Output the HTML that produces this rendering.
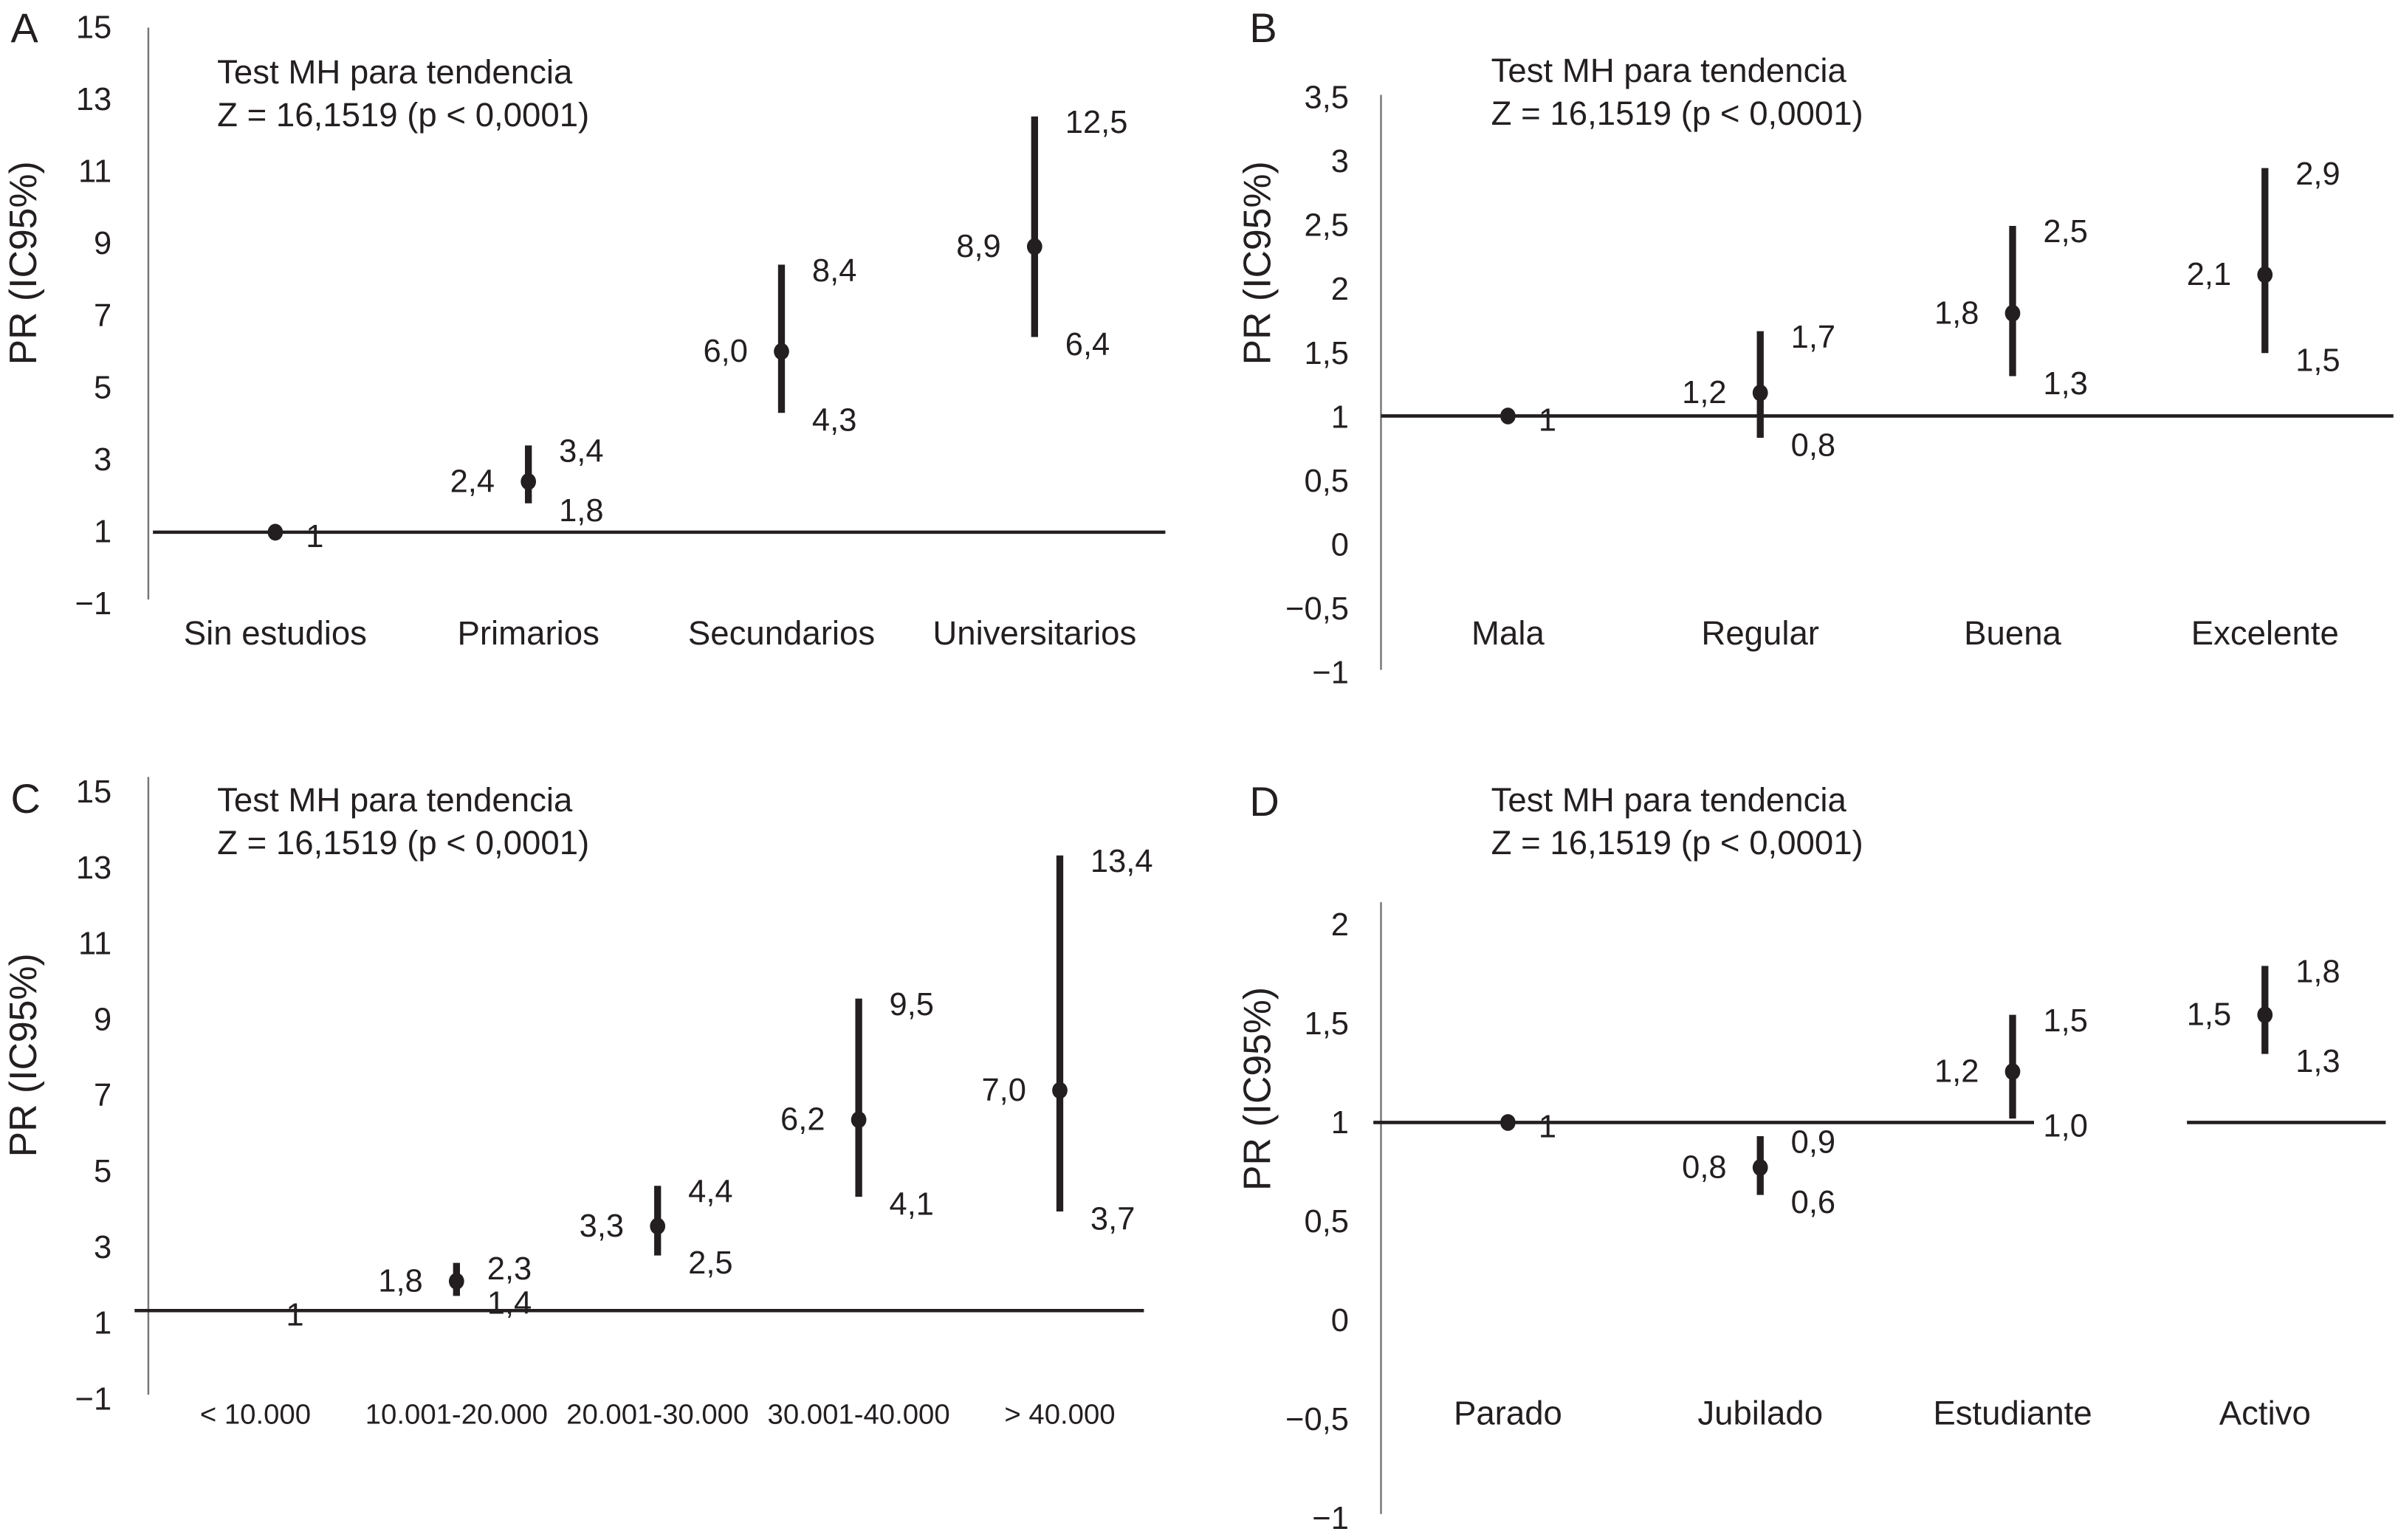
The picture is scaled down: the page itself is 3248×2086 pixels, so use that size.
<!DOCTYPE html>
<html><head><meta charset="utf-8"><style>
html,body{margin:0;padding:0;background:#fff;}
svg{display:block;font-family:"Liberation Sans",Arial,sans-serif;fill:#231f20;}
</style></head><body>
<svg id="fig" width="3248" height="2086" viewBox="0 0 1568 1007" xmlns="http://www.w3.org/2000/svg"></svg>
<script>
// Panel A data
const catsA = ["Sin estudios","Primarios","Secundarios","Universitarios"];
const prA = [1,2.4,6.0,8.9];
const loA = [null,1.8,4.3,6.4];
const hiA = [null,3.4,8.4,12.5];
const prLabA = ["1","2,4","6,0","8,9"];
const loLabA = ["","1,8","4,3","6,4"];
const hiLabA = ["","3,4","8,4","12,5"];
const ticksA = ["15","13","11","9","7","5","3","1","\u22121"];
// Panel B data
const catsB = ["Mala","Regular","Buena","Excelente"];
const prB = [1,1.18,1.8,2.1];
const loB = [null,0.83,1.31,1.49];
const hiB = [null,1.66,2.48,2.93];
const prLabB = ["1","1,2","1,8","2,1"];
const loLabB = ["","0,8","1,3","1,5"];
const hiLabB = ["","1,7","2,5","2,9"];
const ticksB = ["3,5","3","2,5","2","1,5","1","0,5","0","\u22120,5","\u22121"];
// Panel C data
const catsC = ["< 10.000","10.001-20.000","20.001-30.000","30.001-40.000","> 40.000"];
const prC = [null,1.8,3.3,6.2,7.0];
const loC = [null,1.4,2.5,4.1,3.7];
const hiC = [null,2.3,4.4,9.5,13.4];
const prLabC = ["1","1,8","3,3","6,2","7,0"];
const loLabC = ["","1,4","2,5","4,1","3,7"];
const hiLabC = ["","2,3","4,4","9,5","13,4"];
const ticksC = ["15","13","11","9","7","5","3","1","\u22121"];
// Panel D data
const catsD = ["Parado","Jubilado","Estudiante","Activo"];
const prD = [1,0.77,1.26,1.55];
const loD = [null,0.63,1.02,1.35];
const hiD = [null,0.93,1.55,1.8];
const prLabD = ["1","0,8","1,2","1,5"];
const loLabD = ["","0,6","1,0","1,3"];
const hiLabD = ["","0,9","1,5","1,8"];
const ticksD = ["2","1,5","1","0,5","0","\u22120,5","\u22121"];

const NS = "http://www.w3.org/2000/svg";
const svg = document.getElementById("fig");
function mk(tag, attrs, parent, txt){
  const e = document.createElementNS(NS, tag);
  for (const k in attrs) e.setAttribute(k, attrs[k]);
  if (txt !== undefined) e.textContent = txt;
  parent.appendChild(e);
  return e;
}
function panel(p){
  const g = mk("g", {}, svg);
  
  
  const y = v => p.y1 - (v - p.v1) * p.k;
  const x = i => p.x0 + i * p.dx;
  const L = mk("text", {x:p.letX, y:p.letY, "font-size":27, "dominant-baseline":"central"}, g, p.letter);
  
  
  const t1 = mk("text", {x:p.tx, y:p.ty, "font-size":22, "dominant-baseline":"central"}, g, "Test MH para tendencia");
  
  
  const t2 = mk("text", {x:p.tx, y:p.ty+28, "font-size":22, "dominant-baseline":"central"}, g, "Z = 16,1519 (p < 0,0001)");
  
  
  const yt = mk("text", {x:0, y:0, "font-size":25, "text-anchor":"middle", "dominant-baseline":"central", transform:`translate(${p.ytX},${p.ytY}) rotate(-90)`}, g, "PR (IC95%)");
  
  
  const ax = mk("line", {x1:p.axX, x2:p.axX, y1:p.axTop, y2:p.axBot, stroke:"#777", "stroke-width":1.2}, g);
  
  
  p.ticks.forEach((t, i) => {
    const ty = p.tTop + i * (p.tBot - p.tTop) / (p.ticks.length - 1);
    const e = mk("text", {x:p.tickX, y:ty, "font-size":21, "text-anchor":"end", "dominant-baseline":"central"}, g, t);
    
    
  });
  p.refSegs.forEach(s => {
    const r = mk("line", {x1:s[0], x2:s[1], y1:y(1), y2:y(1), stroke:"#231f20", "stroke-width":2.2}, g);
    
    
  });
  p.cats.forEach((c, i) => {
    const e = mk("text", {x:x(i), y:p.catY, "font-size":p.catFs, "text-anchor":"middle", "dominant-baseline":"central"}, g, c);
    
    
    const cx = x(i);
    if (p.hi[i] != null) {
      const b = mk("line", {x1:cx, x2:cx, y1:y(p.hi[i]), y2:y(p.lo[i]), stroke:"#231f20", "stroke-width":4.5}, g);
      
      
      const h = mk("text", {x:cx+20, y:y(p.hi[i])+4, "font-size":21, "dominant-baseline":"central"}, g, p.hiLab[i]);
      
      
      const l = mk("text", {x:cx+20, y:y(p.lo[i])+5, "font-size":21, "dominant-baseline":"central"}, g, p.loLab[i]);
      
      
      const v = mk("text", {x:cx-22, y:y(p.pr[i]), "font-size":21, "text-anchor":"end", "dominant-baseline":"central"}, g, p.prLab[i]);
      
      
    } else {
      const v = mk("text", {x:cx+20, y:y(1)+3, "font-size":21, "dominant-baseline":"central"}, g, p.prLab[i]);
      
      
    }
    if (p.pr[i] != null) {
      const d = mk("ellipse", {cx:cx, cy:y(p.pr[i]), rx:5, ry:5.5, fill:"#231f20"}, g);
      
      
    }
  });
}
panel({id:"a", letter:"A", letX:7, letY:18, tx:142, ty:47, ytX:15, ytY:172,
  axX:97, axTop:18, axBot:392, tickX:73, tTop:18, tBot:395, ticks:ticksA,
  y1:348, v1:1, k:23.64, x0:180, dx:165.5, catY:414, catFs:22,
  refSegs:[[100,762]], cats:catsA, pr:prA, lo:loA, hi:hiA, prLab:prLabA, loLab:loLabA, hiLab:hiLabA});
panel({id:"b", letter:"B", letX:817, letY:18, tx:975, ty:46, ytX:822, ytY:172,
  axX:903, axTop:62, axBot:438, tickX:882, tTop:64, tBot:440, ticks:ticksB,
  y1:272, v1:1, k:84, x0:986, dx:165, catY:414, catFs:22,
  refSegs:[[903,1565]], cats:catsB, pr:prB, lo:loB, hi:hiB, prLab:prLabB, loLab:loLabB, hiLab:hiLabB});
panel({id:"c", letter:"C", letX:7, letY:522, tx:142, ty:523, ytX:15, ytY:690,
  axX:97, axTop:508, axBot:912, tickX:73, tTop:518, tBot:915, ticks:ticksC,
  y1:857, v1:1, k:24, x0:167, dx:131.5, catY:925, catFs:18.5,
  refSegs:[[88,748]], cats:catsC, pr:prC, lo:loC, hi:hiC, prLab:prLabC, loLab:loLabC, hiLab:hiLabC});
panel({id:"d", letter:"D", letX:817, letY:524, tx:975, ty:523, ytX:822, ytY:712,
  axX:903, axTop:590, axBot:990, tickX:882, tTop:605, tBot:993, ticks:ticksD,
  y1:734, v1:1, k:128, x0:986, dx:165, catY:924, catFs:22,
  refSegs:[[898,1330],[1430,1560]], cats:catsD, pr:prD, lo:loD, hi:hiD, prLab:prLabD, loLab:loLabD, hiLab:hiLabD});
</script>
</body></html>
